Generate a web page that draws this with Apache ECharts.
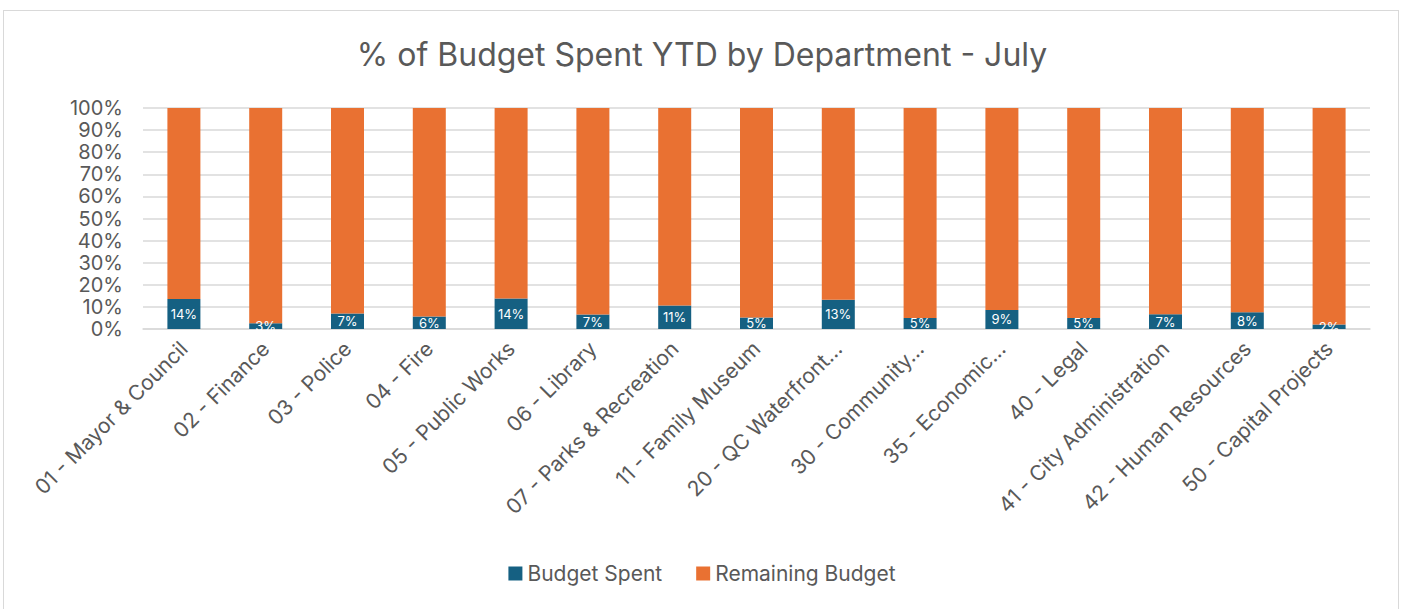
<!DOCTYPE html>
<html>
<head>
<meta charset="utf-8">
<script src="https://cdn.jsdelivr.net/npm/echarts@6/dist/echarts.min.js"></script>
<style>
  html, body { margin: 0; padding: 0; background: #fff; }
  #frame { position: absolute; left: 3px; top: 10px; width: 1396px; height: 610px; border: 1px solid #d9d9d9; box-sizing: border-box; }
  #chart { position: absolute; left: 0; top: 0; width: 1404px; height: 609px; }
</style>
</head>
<body>
<div id="frame"></div>
<div id="chart"></div>
<script>
// departments on the x axis
const departments = [
    "01 - Mayor & Council", "02 - Finance", "03 - Police", "04 - Fire",
    "05 - Public Works", "06 - Library", "07 - Parks & Recreation",
    "11 - Family Museum", "20 - QC Waterfront\u2026", "30 - Community\u2026",
    "35 - Economic\u2026", "40 - Legal", "41 - City Administration",
    "42 - Human Resources", "50 - Capital Projects"
];

// share of budget spent, in percent
const budgetSpent = [13.6, 2.6, 7.0, 5.6, 13.8, 6.6, 10.6, 5.2, 13.2, 5.0, 8.6, 5.0, 6.7, 7.6, 2.0];

// what is left of each budget
const remainingBudget = budgetSpent.map(v => +(100 - v).toFixed(1));

const yTicks = [0, 10, 20, 30, 40, 50, 60, 70, 80, 90, 100];

const textColor = '#595959';
const fontName = 'Inter, "Noto Sans", sans-serif';

function generateChart() {
    let chart = echarts.init(document.getElementById('chart'), null, { renderer: 'svg' });
    let option = {
        textStyle: { fontFamily: fontName },
        title: {
            text: '% of Budget Spent YTD by Department - July',
            left: 'center',
            top: 33,
            textStyle: { color: textColor, fontSize: 32, fontWeight: 'normal', fontFamily: fontName }
        },
        legend: {
            bottom: 20,
            left: 'center',
            itemWidth: 14,
            itemHeight: 14,
            itemGap: 34,
            icon: 'rect',
            textStyle: { color: textColor, fontSize: 21, fontFamily: fontName }
        },
        grid: { left: 143, right: 34, top: 108, bottom: 280 },
        xAxis: {
            type: 'category',
            data: departments,
            axisTick: { show: false },
            axisLine: { lineStyle: { color: '#d9d9d9', width: 1.5 } },
            axisLabel: {
                interval: 0,
                rotate: 45,
                margin: 16,
                color: textColor,
                fontSize: 21,
                fontFamily: fontName
            }
        },
        yAxis: {
            type: 'value',
            min: yTicks[0],
            max: yTicks[yTicks.length - 1],
            interval: 10,
            axisLabel: {
                formatter: '{value}%',
                color: textColor,
                fontSize: 20,
                margin: 20,
                fontFamily: fontName
            },
            splitLine: { lineStyle: { color: '#d9d9d9', width: 1.5 } }
        },
        series: [{
            name: 'Budget Spent',
            type: 'bar',
            stack: 'total',
            barWidth: 33,
            data: budgetSpent,
            itemStyle: { color: '#156082' },
            label: {
                show: true,
                position: 'inside',
                color: '#ffffff',
                fontSize: 13,
                formatter: p => Math.round(p.value) + '%'
            }
        }, {
            name: 'Remaining Budget',
            type: 'bar',
            stack: 'total',
            barWidth: 33,
            data: remainingBudget,
            itemStyle: { color: '#E97132' }
        }]
    };
    chart.setOption(option);
}

generateChart();
</script>
</body>
</html>
